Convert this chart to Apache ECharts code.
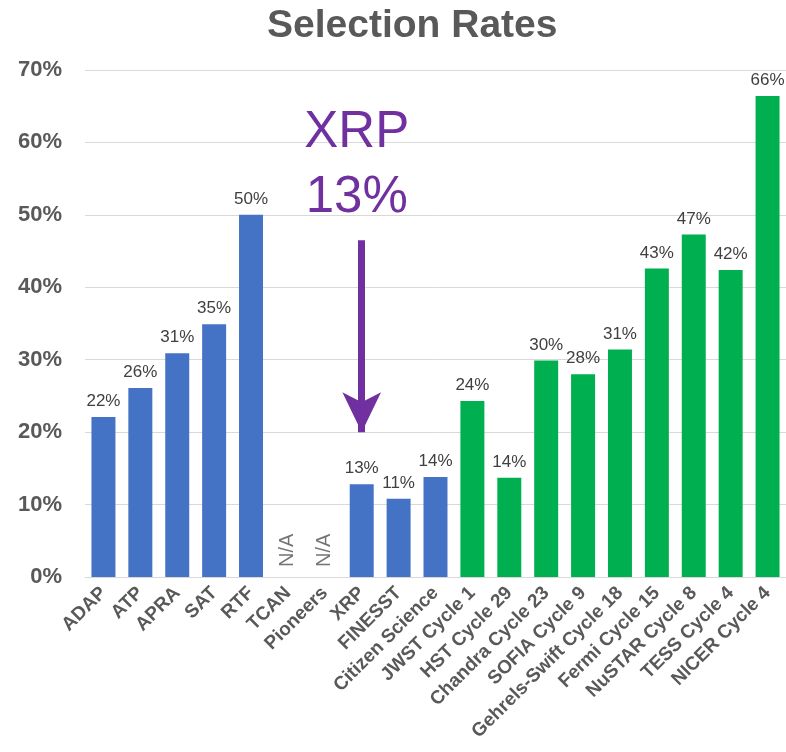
<!DOCTYPE html>
<html>
<head>
<meta charset="utf-8">
<script src="https://cdn.jsdelivr.net/npm/echarts@6/dist/echarts.min.js"></script>
<style>
  html, body { margin: 0; padding: 0; background: #fff; }
  #chart { width: 786px; height: 752px; }
</style>
</head>
<body>
<div id="chart"></div>
<script>
var categories = ['ADAP', 'ATP', 'APRA', 'SAT', 'RTF', 'TCAN', 'Pioneers', 'XRP', 'FINESST',
  'Citizen Science', 'JWST Cycle 1', 'HST Cycle 29', 'Chandra Cycle 23', 'SOFIA Cycle 9',
  'Gehrels-Swift Cycle 18', 'Fermi Cycle 15', 'NuSTAR Cycle 8', 'TESS Cycle 4', 'NICER Cycle 4'];
// selection rate in %, null = not available
var rates = [22.1, 26.1, 30.9, 34.9, 50.0, null, null, 12.8, 10.8, 13.8,
  24.3, 13.7, 29.9, 28.0, 31.4, 42.6, 47.3, 42.4, 66.4];
// group of each program: 0 = blue, 1 = green
var groups = [0, 0, 0, 0, 0, 0, 0, 0, 0, 0, 1, 1, 1, 1, 1, 1, 1, 1, 1];
var naLabels = ['', '', '', '', '', 'N/A', 'N/A', '', '', '', '', '', '', '', '', '', '', '', ''];
var yTicks = [0, 10, 20, 30, 40, 50, 60, 70];
var highlight = { name: 'XRP', text: '13%' };

var colors = ['#4472C4', '#00B050'];
var purple = '#7030A0';
var font = '"Liberation Sans", Arial, sans-serif';

var barData = rates.map(function(v, i) {
  return { value: v, itemStyle: { color: colors[groups[i]] } };
});
var naData = [];
naLabels.forEach(function(t, i) {
  if (t) naData.push({ value: [categories[i], 0], name: t });
});

var chart = echarts.init(document.getElementById('chart'));
chart.setOption({
  animation: false,
  title: {
    text: 'Selection Rates',
    left: 262,
    top: 2,
    textStyle: { fontFamily: font, fontSize: 39, fontWeight: 'bold', color: '#595959' }
  },
  grid: { left: 85, right: -2, top: 70, bottom: 175 },
  xAxis: {
    type: 'category',
    data: categories,
    axisLine: { lineStyle: { color: '#d9d9d9' } },
    axisTick: { show: false },
    axisLabel: {
      interval: 0, rotate: 45, margin: 13,
      fontFamily: font, fontSize: 19, fontWeight: 'bold', color: '#595959'
    }
  },
  yAxis: {
    type: 'value',
    min: yTicks[0],
    max: yTicks[yTicks.length - 1],
    interval: 10,
    axisLine: { show: false },
    axisTick: { show: false },
    splitLine: { lineStyle: { color: '#d9d9d9', width: 1 } },
    axisLabel: {
      margin: 23,
      formatter: '{value}%',
      fontFamily: font, fontSize: 22, fontWeight: 'bold', color: '#595959'
    }
  },
  series: [
    {
      type: 'bar',
      data: barData,
      barWidth: '65%',
      label: {
        show: true, position: 'top', distance: 7,
        formatter: function(p) { return Math.round(p.value) + '%'; },
        fontFamily: font, fontSize: 17, color: '#404040'
      },
      markLine: {
        silent: true,
        symbol: ['none', 'arrow'],
        symbolSize: [29, 40],
        lineStyle: { color: purple, width: 7, type: 'solid' },
        itemStyle: { color: purple },
        label: { show: false },
        data: [[
          { coord: [highlight.name, 46.5] },
          { coord: [highlight.name, 20.0] }
        ]]
      },
      markPoint: {
        silent: true,
        symbol: 'circle',
        symbolSize: 0,
        label: {
          show: true,
          offset: [-5, 0],
          formatter: highlight.name + '\n' + highlight.text,
          fontFamily: font, fontSize: 51, lineHeight: 65, color: purple
        },
        data: [{ coord: [highlight.name, 56.8] }]
      }
    },
    {
      type: 'scatter',
      data: naData,
      symbolSize: 0,
      label: {
        show: true,
        formatter: '{b}',
        position: [0, -10],
        rotate: 90,
        align: 'left',
        verticalAlign: 'middle',
        fontFamily: font, fontSize: 20, color: '#505050'
      }
    }
  ]
});
</script>
</body>
</html>
